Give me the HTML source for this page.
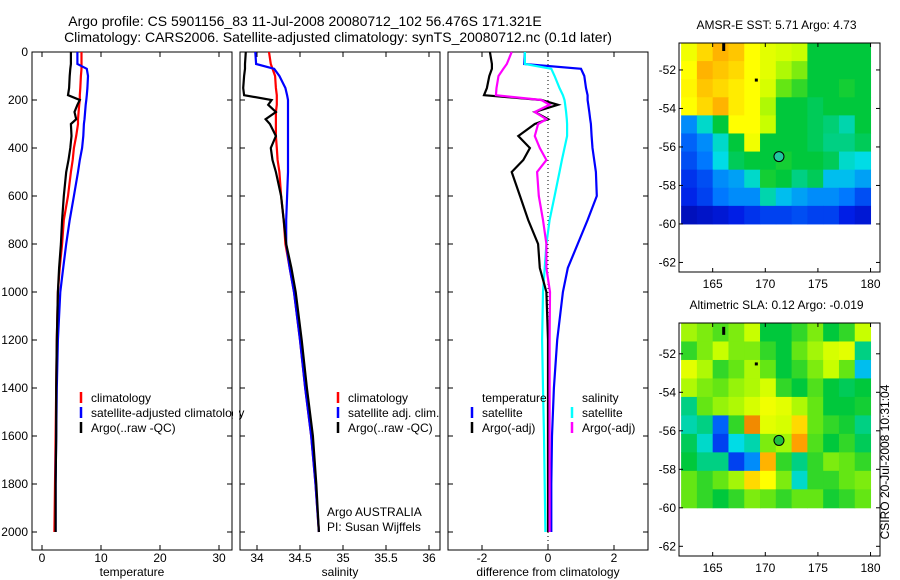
<!DOCTYPE html>
<html><head><meta charset="utf-8"><style>
body{margin:0;background:#fff;}
svg{display:block;font-family:"Liberation Sans",sans-serif;}
</style></head><body>
<svg id="c" width="900" height="580"></svg>
<script>
// ---- data ----
const depths=[0,50,70,100,150,180,200,220,250,280,300,350,400,450,500,600,700,800,900,1000,1200,1400,1600,1800,2000];
const tempClim=[6.7,6.7,6.7,6.6,6.5,6.4,6.4,6.3,6.2,6.1,6.1,5.8,5.4,5.2,4.9,4.4,3.7,3.4,3.0,2.7,2.5,2.4,2.3,2.2,2.1];
const tempSat=[6.0,6.0,7.6,7.8,7.7,7.6,7.5,7.4,7.3,7.2,7.1,7.0,6.8,6.4,6.1,5.4,4.7,4.1,3.6,3.1,2.7,2.5,2.4,2.3,2.3];
const tempArgo=[4.9,4.9,4.8,4.7,4.6,4.4,6.4,6.0,5.5,5.8,4.9,5.0,4.8,4.5,4.1,3.7,3.4,3.2,2.9,2.7,2.5,2.4,2.4,2.3,2.3];
const salClim=[34.14,34.16,34.18,34.21,34.22,34.23,34.23,34.23,34.22,34.22,34.22,34.22,34.23,34.24,34.26,34.28,34.31,34.33,34.38,34.43,34.5,34.56,34.63,34.68,34.72];
const salSat=[33.98,33.99,34.2,34.26,34.33,34.35,34.36,34.36,34.36,34.36,34.36,34.36,34.36,34.36,34.36,34.35,34.34,34.34,34.38,34.43,34.5,34.56,34.63,34.68,34.72];
const salArgo=[33.87,33.86,33.86,33.85,33.84,33.85,34.17,34.13,34.22,34.1,34.15,34.22,34.16,34.18,34.22,34.28,34.31,34.34,34.40,34.45,34.52,34.58,34.65,34.69,34.72];
const dTempSat=[-0.7,-0.72,1.0,1.1,1.15,1.2,1.2,1.22,1.25,1.28,1.3,1.32,1.35,1.4,1.45,1.48,1.2,0.9,0.6,0.45,0.28,0.18,0.12,0.1,0.1];
const dTempArgo=[-1.76,-1.7,-1.7,-1.78,-1.85,-1.94,-0.2,0.3,-0.4,0.0,-0.4,-0.9,-0.55,-0.75,-1.1,-0.85,-0.6,-0.3,-0.25,-0.05,0,0,0,0,0];
const dSalSat=[-0.7,-0.7,0.1,0.2,0.35,0.45,0.5,0.52,0.55,0.57,0.58,0.58,0.5,0.42,0.35,0.2,0.05,-0.05,-0.1,-0.15,-0.18,-0.15,-0.12,-0.1,-0.08];
const dSalArgo=[-1.1,-1.25,-1.35,-1.5,-1.56,-1.58,-0.2,0.05,-0.4,-0.05,-0.3,-0.4,-0.25,-0.05,-0.33,-0.28,-0.15,-0.05,-0.05,0.06,0.05,0.05,0.05,0.05,0.05];
const depthTicks=[0,200,400,600,800,1000,1200,1400,1600,1800,2000];
const tempTicks=[0,10,20,30];
const salTicks=[34,34.5,35,35.5,36];
const diffTicks=[-2,0,2];
const latTicks=[52,54,56,58,60,62];
const lonTicks=[165,170,175,180];
const sstGrid=[
[.74,.8,.84,.82,.76,.72,.7,.68,.5,.5,.5,.5],
[.76,.84,.82,.8,.76,.72,.66,.62,.5,.5,.5,.5],
[.77,.82,.8,.78,.76,.7,.6,.55,.5,.5,.52,.5],
[.76,.8,.84,.78,.76,.66,.5,.5,.48,.5,.5,.5],
[.3,.4,.5,.76,.76,.68,.5,.5,.48,.46,.42,.5],
[.25,.3,.4,.5,.74,.5,.5,.5,.48,.45,.45,.48],
[.22,.28,.38,.48,.5,.5,.52,.5,.5,.48,.4,.38],
[.18,.22,.3,.32,.4,.52,.5,.45,.48,.35,.35,.32],
[.16,.2,.28,.3,.3,.42,.35,.32,.3,.3,.28,.22],
[.08,.1,.12,.15,.18,.2,.2,.22,.2,.2,.15,.12]];
const slaGrid=[
[.65,.62,.58,.62,.68,.5,.5,.55,.62,.5,.55,.68],
[.55,.62,.68,.62,.62,.55,.5,.6,.65,.7,.72,.45],
[.72,.66,.55,.6,.66,.6,.5,.55,.62,.68,.6,.35],
[.66,.62,.6,.64,.66,.7,.55,.5,.58,.5,.48,.5],
[.45,.6,.64,.66,.7,.74,.72,.66,.6,.5,.5,.52],
[.42,.45,.25,.55,.88,.72,.7,.8,.6,.55,.52,.45],
[.48,.4,.2,.38,.42,.62,.65,.86,.58,.5,.55,.48],
[.5,.45,.45,.2,.3,.84,.55,.45,.55,.62,.6,.55],
[.6,.55,.6,.65,.8,.76,.62,.4,.55,.55,.6,.62],
[.6,.55,.5,.55,.62,.6,.55,.6,.6,.52,.55,.6]];
const argoPos=[171.3,56.5];

// ---- drawing ----
const NS="http://www.w3.org/2000/svg", svg=document.getElementById('c');
function el(t,a,p){const e=document.createElementNS(NS,t);for(const k in a)e.setAttribute(k,a[k]);(p||svg).appendChild(e);return e;}
function txt(x,y,s,a,p){const e=el('text',Object.assign({x:x,y:y,'font-size':12,fill:'#000'},a||{}),p);e.textContent=s;return e;}
const yD=d=>52+d*0.24;

function panel(name,x0,x1,fx,ticks,fmt,label,series){
  const g=el('g',{});
  
  
  const f=el('rect',{x:x0,y:52,width:x1-x0,height:498,fill:'#fff',stroke:'#000','stroke-width':1},g);
  
  
  depthTicks.forEach(d=>{el('line',{x1:x0,x2:x0+5,y1:yD(d),y2:yD(d),stroke:'#000'},g);el('line',{x1:x1-5,x2:x1,y1:yD(d),y2:yD(d),stroke:'#000'},g);});
  ticks.forEach(v=>{const x=fx(v);el('line',{x1:x,x2:x,y1:550,y2:545,stroke:'#000'},g);el('line',{x1:x,x2:x,y1:52,y2:57,stroke:'#000'},g);
    const t=txt(x,562,fmt(v),{'text-anchor':'middle'},g);});
  const l=txt((x0+x1)/2,576,label,{'text-anchor':'middle'},g);
  
  
  series.forEach(s=>{
    const pts=s.vals.map((v,i)=>fx(v).toFixed(1)+','+yD(depths[i]).toFixed(1)).join(' ');
    const p=el('polyline',{points:pts,fill:'none',stroke:s.c,'stroke-width':s.w||2.2},g);
    
    
  });
  return g;
}
const fT=v=>42+v*5.9, fS=v=>257+(v-34)*86, fDf=v=>548+v*33;
panel('temperature-panel',32,232,fT,tempTicks,v=>v,'temperature',[
 {vals:tempClim,c:'#f00',n:'temp-climatology-line'},{vals:tempSat,c:'#00f',n:'temp-satellite-line'},{vals:tempArgo,c:'#000',n:'temp-argo-line'}]);
panel('salinity-panel',240,440,fS,salTicks,v=>v,'salinity',[
 {vals:salClim,c:'#f00',n:'sal-climatology-line'},{vals:salSat,c:'#00f',n:'sal-satellite-line'},{vals:salArgo,c:'#000',n:'sal-argo-line'}]);
const dp=panel('difference-panel',448,648,fDf,diffTicks,v=>v,'difference from climatology',[]);
const zl=el('line',{x1:fDf(0),x2:fDf(0),y1:52,y2:550,stroke:'#000','stroke-dasharray':'1,3'},dp);


[{vals:dTempSat,c:'#00f',n:'diff-temp-satellite-line'},{vals:dSalSat,c:'#0ff',n:'diff-sal-satellite-line'},{vals:dTempArgo,c:'#000',n:'diff-temp-argo-line'},{vals:dSalArgo,c:'#f0f',n:'diff-sal-argo-line'}].forEach(s=>{
  const p=el('polyline',{points:s.vals.map((v,i)=>fDf(v).toFixed(1)+','+yD(depths[i]).toFixed(1)).join(' '),fill:'none',stroke:s.c,'stroke-width':2.2},dp);
  
  
});
depthTicks.forEach(d=>{const t=txt(28,yD(d)+4,String(d),{'text-anchor':'end'});});
let t=txt(305,26,'Argo profile: CS 5901156_83 11-Jul-2008 20080712_102 56.476S 171.321E',{'text-anchor':'middle','font-size':14});

t=txt(338,42,'Climatology: CARS2006. Satellite-adjusted climatology: synTS_20080712.nc (0.1d later)',{'text-anchor':'middle','font-size':14});

function leg(x,y,c,s){const g=el('g',{});
  el('line',{x1:x,x2:x,y1:y-10,y2:y+1,stroke:c,'stroke-width':2.5},g);txt(x+10,y,s,{},g);}
leg(81,402,'#f00','climatology');leg(81,417,'#00f','satellite-adjusted climatology');leg(81,432,'#000','Argo(..raw -QC)');
el('rect',{x:233,y:405,width:6,height:16,fill:'#fff'});
el('line',{x1:232,x2:232,y1:52,y2:550,stroke:'#000'});
leg(338,402,'#f00','climatology');leg(338,417,'#00f','satellite adj. clim.');leg(338,432,'#000','Argo(..raw -QC)');
txt(482,402,'temperature');txt(582,402,'salinity');
leg(472,417,'#00f','satellite');leg(472,432,'#000','Argo(-adj)');
leg(572,417,'#0ff','satellite');leg(572,432,'#f0f','Argo(-adj)');
t=txt(327,516,'Argo AUSTRALIA');
t=txt(327,531,'PI: Susan Wijffels');

// maps
const stops=[[0,[0,0,140]],[0.15,[0,30,230]],[0.28,[0,120,255]],[0.38,[0,220,230]],[0.5,[0,200,60]],[0.6,[100,230,20]],[0.68,[200,255,0]],[0.76,[255,255,0]],[0.86,[255,160,0]],[0.96,[190,50,0]],[1,[150,20,0]]];
function cmap(v){for(let i=1;i<stops.length;i++){if(v<=stops[i][0]){const a=stops[i-1],b=stops[i],f=(v-a[0])/(b[0]-a[0]);return 'rgb('+a[1].map((c,k)=>Math.round(c+(b[1][k]-c)*f)).join(',')+')';}}return 'rgb(150,20,0)';}
function map(name,top,bottom,latTop,title,grid){
  const left=679,right=880,lonL=161.8,lonR=180.9;
  const fx=lon=>left+(lon-lonL)*(right-left)/(lonR-lonL);
  const fy=lat=>top+(lat-latTop)*19.25;
  const g=el('g',{});
  el('rect',{x:left,y:top,width:right-left,height:bottom-top,fill:'#fff'},g);
  const rows=grid.length,cols=grid[0].length,lon0=162,lon1=180,la0=latTop,la1=60;
  grid.forEach((row,r)=>row.forEach((v,c)=>{
    const x=fx(lon0+(lon1-lon0)*c/cols),x2=fx(lon0+(lon1-lon0)*(c+1)/cols);
    const y=fy(la0+(la1-la0)*r/rows),y2=fy(la0+(la1-la0)*(r+1)/rows);
    const rc=el('rect',{x:x,y:y,width:x2-x+0.5,height:y2-y+0.5,fill:cmap(v)},g);
    
    
  }));
  el('rect',{x:left,y:top,width:right-left,height:bottom-top,fill:'none',stroke:'#000'},g);
  latTicks.forEach(l=>{const y=fy(l);el('line',{x1:left,x2:left+4,y1:y,y2:y,stroke:'#000'},g);el('line',{x1:right-4,x2:right,y1:y,y2:y,stroke:'#000'},g);
    const tl=txt(676,y+4,'-'+l,{'text-anchor':'end'},g);});
  lonTicks.forEach(l=>{const x=fx(l);el('line',{x1:x,x2:x,y1:bottom,y2:bottom-4,stroke:'#000'},g);el('line',{x1:x,x2:x,y1:top,y2:top+4,stroke:'#000'},g);
    const tl=txt(x,bottom+16,String(l),{'text-anchor':'middle'},g);});
  el('rect',{x:fx(166)-1,y:fy(50.6),width:3,height:8,fill:'#000'},g);
  el('rect',{x:fx(169.1)-1,y:fy(52.5)-1,width:3,height:3,fill:'#000'},g);
  const m=el('circle',{cx:fx(argoPos[0]),cy:fy(argoPos[1]),r:5,fill:name==='sst-map'?'#20c8a0':'#20c040',stroke:'#000'},g);
  
  
  const tt=txt((left+right)/2-3,top-14,title,{'text-anchor':'middle'},g);
  
  
}
map('sst-map',43,272,50.6,'AMSR-E SST: 5.71  Argo: 4.73',sstGrid);
map('sla-map',323,556,50.4,'Altimetric SLA: 0.12  Argo: -0.019',slaGrid);
t=txt(0,0,'CSIRO 20-Jul-2008 10:31:04',{'text-anchor':'middle',transform:'translate(889,462) rotate(-90)'});

</script>
</body></html>
